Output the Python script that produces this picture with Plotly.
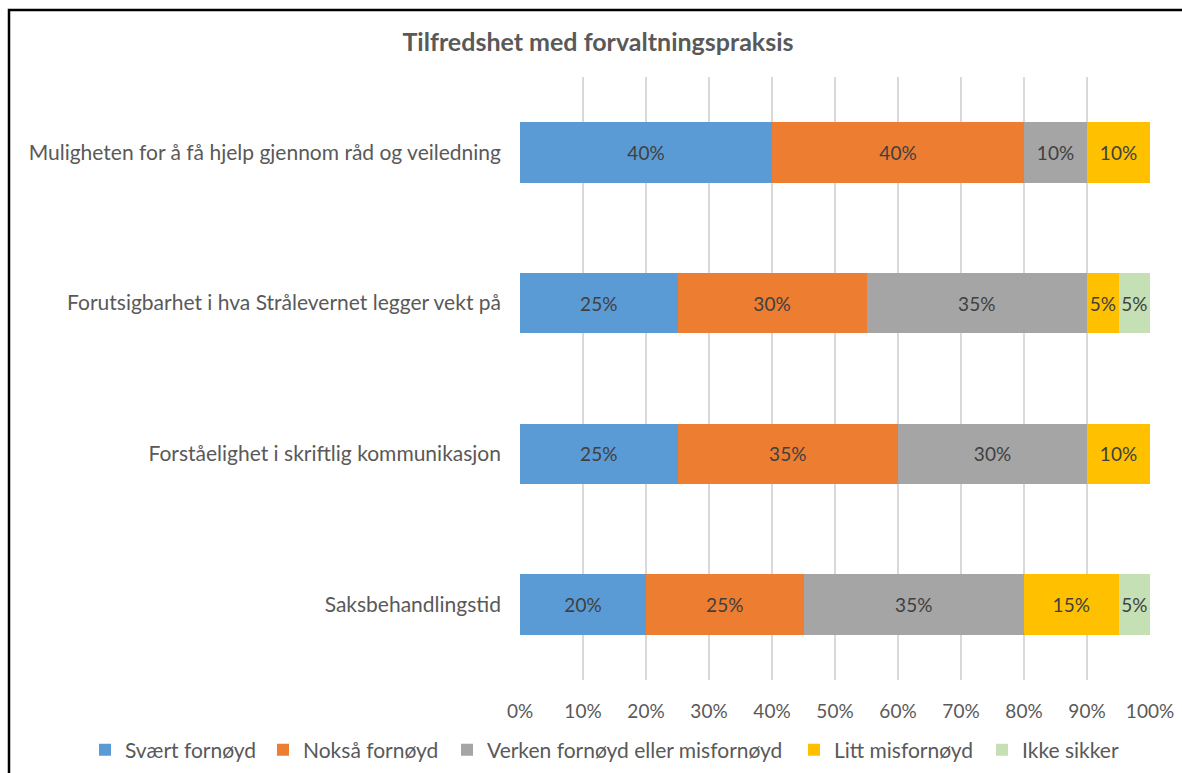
import plotly.graph_objects as go

categories = [
    "Muligheten for å få hjelp gjennom råd og veiledning",
    "Forutsigbarhet i hva Strålevernet legger vekt på",
    "Forståelighet i skriftlig kommunikasjon",
    "Saksbehandlingstid",
]
series_names = ["Svært fornøyd", "Nokså fornøyd", "Verken fornøyd eller misfornøyd",
                "Litt misfornøyd", "Ikke sikker"]
svaert = [40, 25, 25, 20]
noksaa = [40, 30, 35, 25]
verken = [10, 35, 30, 35]
litt = [10, 5, 10, 15]
ikke = [0, 5, 0, 5]
colors = ["#5B9BD5", "#ED7D31", "#A5A5A5", "#FFC000", "#C5E0B4"]
x_ticks = [0, 10, 20, 30, 40, 50, 60, 70, 80, 90, 100]
legend_left_px = [85, 263, 447, 794, 982]

FONT = "Lato"

L, R, T, B = 520, 32, 77, 93
W, H = 1182, 773
pw, ph = W - L - R, H - T - B

def px(x):
    return (x - L) / pw

def py(y):
    return (H - B - y) / ph

legend_ids = ["legend", "legend2", "legend3", "legend4", "legend5"]

fig = go.Figure()
for name, vals, col, lid in zip(series_names, [svaert, noksaa, verken, litt, ikke], colors, legend_ids):
    fig.add_trace(go.Bar(
        y=categories, x=vals, name=name, orientation="h",
        marker=dict(color=col, line=dict(width=0)),
        text=[f"{v}%" if v else "" for v in vals],
        textposition="inside", insidetextanchor="middle", constraintext="none",
        textangle=0,
        textfont=dict(size=19, color="#404040", family=FONT),
        hoverinfo="skip", legend=lid,
    ))

legend_layout = {}
for lid, lx in zip(legend_ids, legend_left_px):
    legend_layout[lid] = dict(orientation="h", x=px(lx), xanchor="left", y=py(750), yanchor="middle",
                              font=dict(size=21, color="#595959"), itemwidth=30,
                              bgcolor="rgba(0,0,0,0)")

fig.update_layout(
    width=W, height=H, barmode="stack", bargap=0.6,
    margin=dict(l=L, r=R, t=T, b=B, autoexpand=False),
    paper_bgcolor="white", plot_bgcolor="white",
    font=dict(family=FONT, color="#595959"),
    title=dict(text="<b>Tilfredshet med forvaltningspraksis</b>", x=598 / W, xanchor="center",
               y=1 - 42 / H, yanchor="middle", font=dict(size=25, color="#595959")),
    xaxis=dict(range=[0, 100], tickvals=x_ticks, ticktext=[f"{v}%" for v in x_ticks],
               showgrid=True, gridcolor="#D9D9D9", gridwidth=2, zeroline=False,
               tickfont=dict(size=19, color="#595959"), ticklabelstandoff=18,
               showline=False, fixedrange=True, automargin=False),
    yaxis=dict(autorange="reversed", tickfont=dict(size=21, color="#595959"),
               ticklabelstandoff=18, showgrid=False, showline=False, fixedrange=True,
               automargin=False),
    showlegend=True,
    shapes=[dict(type="rect", xref="paper", yref="paper",
                 x0=px(9), x1=px(1300), y0=py(900), y1=py(10),
                 line=dict(color="#000000", width=2.5), layer="above")],
    **legend_layout,
)

fig.write_html("out.html", config={"displayModeBar": False},
               post_script="document.body.style.margin='0';document.body.style.overflow='hidden';")
